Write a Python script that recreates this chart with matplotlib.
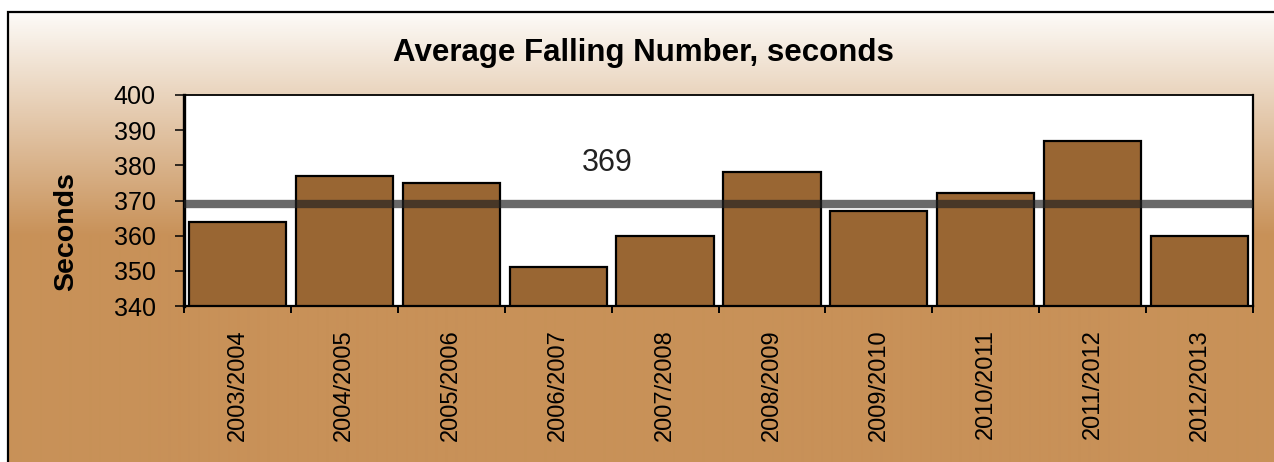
import matplotlib
matplotlib.use("Agg")
import matplotlib.pyplot as plt
import numpy as np

plt.rcParams["font.family"] = ["Liberation Sans", "DejaVu Sans"]

TITLE = "Average Falling Number, seconds"
Y_LABEL = "Seconds"
SEASONS = [
    "2003/2004", "2004/2005", "2005/2006", "2006/2007", "2007/2008",
    "2008/2009", "2009/2010", "2010/2011", "2011/2012", "2012/2013",
]
FALLING_NUMBER = [364, 377, 375, 351, 360, 378, 367, 372, 387, 360]
AVERAGE = 369
Y_TICKS = [340, 350, 360, 370, 380, 390, 400]

W, H = 1274, 462
BAR_COLOR = "#996633"


def draw_background(fig):
    bg = fig.add_axes([0, 0, 1, 1])
    bg.set_xlim(0, W)
    bg.set_ylim(H, 0)
    bg.axis("off")
    # vertical gradient: near white at the top, flat tan further down
    rows = np.arange(12, H)
    top = np.array([253, 251, 248]) / 255
    bottom = np.array([200, 145, 88]) / 255
    frac = np.clip((rows - 12) / (235 - 12), 0, 1)[:, None]
    col = top * (1 - frac) + bottom * frac
    img = np.repeat(col[:, None, :], 2, axis=1)
    bg.imshow(img, extent=(8, W, H, 12), aspect="auto", interpolation="bilinear")
    bg.plot([8, 8, W], [H, 12, 12], color="black", lw=1.6, solid_joinstyle="miter")
    return bg


def main():
    fig = plt.figure(figsize=(W / 100, H / 100), dpi=100)
    draw_background(fig)

    ax = fig.add_axes([184 / W, 1 - 306 / H, (1253 - 184) / W, (306 - 95) / H])
    ax.set_facecolor("white")

    x = np.arange(len(SEASONS))
    ax.bar(x, FALLING_NUMBER, width=0.91, color=BAR_COLOR,
           edgecolor="black", linewidth=1.6, zorder=2)
    ax.axhline(AVERAGE, color="#222222", alpha=0.68, lw=6, zorder=3)
    ax.text(3.46, 380.7, f"{AVERAGE}", ha="center", va="center",
            fontsize=22, color="#222222", zorder=4)

    ax.set_xlim(-0.5, len(SEASONS) - 0.5)
    ax.set_ylim(Y_TICKS[0], Y_TICKS[-1])
    ax.set_yticks(Y_TICKS)
    ax.tick_params(axis="y", labelsize=18, length=6.5, width=1.1, pad=14,
                   direction="out")

    ax.set_xticks(x)
    ax.set_xticklabels(SEASONS, rotation=90, fontsize=17)
    ax.set_xticks(np.arange(len(SEASONS) + 1) - 0.5, minor=True)
    ax.tick_params(axis="x", which="major", length=0, pad=17)
    ax.tick_params(axis="x", which="minor", length=5, width=1.4, direction="out")

    for side, lw in (("left", 2.4), ("right", 1.6), ("top", 1.3), ("bottom", 1.6)):
        ax.spines[side].set_linewidth(lw)
        ax.spines[side].set_color("black")

    fig.text(643 / W, 1 - 53.5 / H, TITLE, ha="center", va="center",
             fontsize=22.5, fontweight="bold")
    fig.text(66 / W, 1 - 232 / H, Y_LABEL, ha="center", va="center",
             rotation=90, fontsize=20.5, fontweight="bold")

    fig.savefig("out.png", dpi=100)


if __name__ == "__main__":
    main()
